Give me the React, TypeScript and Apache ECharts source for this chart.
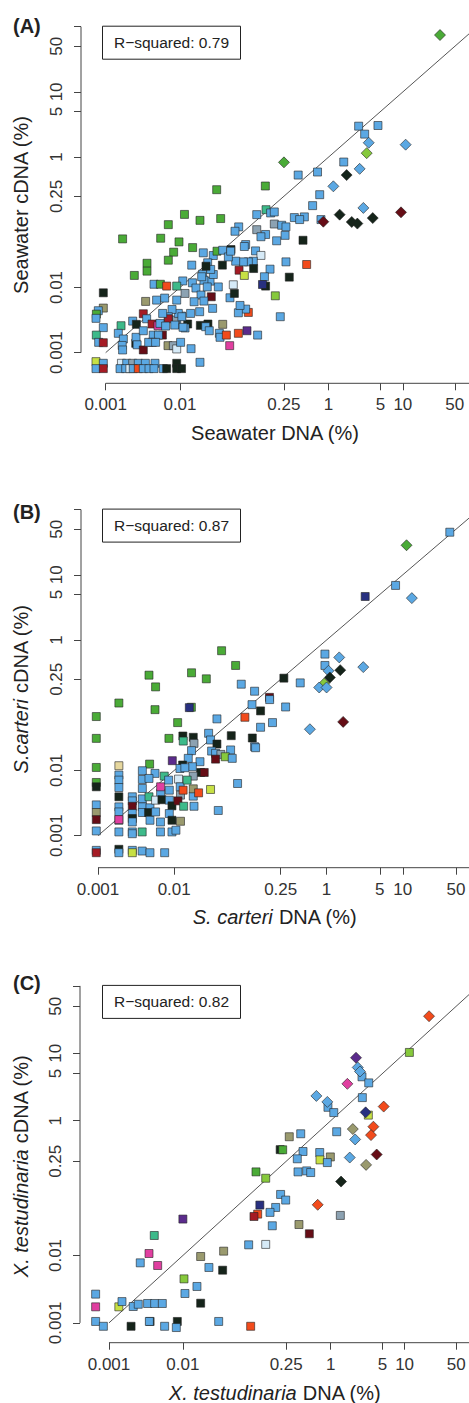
import React, { useEffect, useRef } from 'react';
import * as echarts from 'echarts';

type Pt = [number, number, string];

const palette: Record<string, string> = {
  B: '#5ba8e3', K: '#15241a', G: '#4aab37', T: '#3dba8a', L: '#86c93c', Y: '#c7e044',
  R: '#a51b24', O: '#f24b1c', D: '#660d16', M: '#e03fa0', P: '#5b2b8c', N: '#283080',
  H: '#9a9a6e', S: '#8ca2b2', W: '#d6eaf7', E: '#e6d79e',
};

const tickValues = [0.001, 0.01, 0.25, 1, 5, 10, 50, 100];
const tickLabels = ['0.001', '0.01', '0.25', '1', '5', '10', '50', ''];
const panelLetters = ['(A)', '(B)', '(C)'];
const rSquared = ['0.79', '0.87', '0.82'];
const speciesNames = ['Seawater', 'S. carteri', 'X. testudinaria'];

// Seawater DNA (%) vs Seawater cDNA (%)
const seawaterSquares: Pt[] = [
  [2.54, 2.98, 'B'], [4.62, 3.05, 'B'], [3.06, 2.25, 'B'], [1.6, 0.84, 'B'], [0.71, 0.59, 'B'], [0.39, 0.53, 'B'],
  [0.76, 0.265, 'B'], [0.0312, 0.316, 'G'], [0.141, 0.36, 'G'], [0.61, 0.18, 'B'], [0.472, 0.121, 'B'], [0.346, 0.118, 'B'],
  [0.408, 0.11, 'B'], [0.79, 0.11, 'B'], [0.144, 0.156, 'T'], [0.166, 0.139, 'B'], [0.186, 0.144, 'B'], [0.108, 0.131, 'B'],
  [0.186, 0.094, 'S'], [0.234, 0.09, 'B'], [0.267, 0.085, 'B'], [0.108, 0.077, 'S'], [0.142, 0.065, 'B'], [0.123, 0.06, 'B'],
  [0.26, 0.063, 'B'], [0.2, 0.052, 'B'], [0.453, 0.053, 'K'], [0.0617, 0.085, 'B'], [0.055, 0.0728, 'B'], [0.0766, 0.0455, 'B'],
  [0.0735, 0.0425, 'B'], [0.0486, 0.0382, 'K'], [0.104, 0.0364, 'B'], [0.123, 0.031, 'W'], [0.097, 0.0253, 'B'], [0.0832, 0.0247, 'B'],
  [0.0713, 0.0247, 'B'], [0.0562, 0.0253, 'B'], [0.0624, 0.0184, 'R'], [0.0735, 0.0153, 'Y'], [0.163, 0.0191, 'B'], [0.137, 0.0146, 'B'],
  [0.098, 0.0195, 'K'], [0.142, 0.0105, 'K'], [0.129, 0.0111, 'N'], [0.296, 0.0144, 'K'], [0.507, 0.0225, 'O'], [0.267, 0.0247, 'B'],
  [0.192, 0.00745, 'L'], [0.224, 0.00356, 'B'], [0.0832, 0.00414, 'O'], [0.0766, 0.00466, 'B'], [0.0611, 0.00409, 'B'], [0.0643, 0.0053, 'B'],
  [0.0471, 0.00695, 'B'], [0.054, 0.0081, 'K'], [0.0522, 0.011, 'W'], [0.0328, 0.0102, 'B'], [0.0254, 0.0125, 'B'], [0.0281, 0.0158, 'B'],
  [0.0202, 0.016, 'B'], [0.021, 0.0129, 'B'], [0.0147, 0.0118, 'B'], [0.0164, 0.0098, 'B'], [0.0192, 0.00764, 'B'], [0.0264, 0.0072, 'D'],
  [0.021, 0.00618, 'B'], [0.0155, 0.00604, 'B'], [0.0275, 0.00478, 'B'], [0.0184, 0.00425, 'B'], [0.0139, 0.004, 'B'], [0.0105, 0.00364, 'B'],
  [0.0127, 0.00275, 'K'], [0.0117, 0.00239, 'B'], [0.00904, 0.00272, 'B'], [0.00875, 0.00316, 'S'], [0.0095, 0.004, 'B'], [0.00782, 0.0046, 'B'],
  [0.00904, 0.0064, 'B'], [0.0117, 0.0081, 'S'], [0.0109, 0.0126, 'B'], [0.0144, 0.022, 'B'], [0.0196, 0.0146, 'B'], [0.0206, 0.034, 'B'],
  [0.0281, 0.0309, 'B'], [0.0315, 0.036, 'G'], [0.0376, 0.0372, 'B'], [0.0372, 0.022, 'K'], [0.0448, 0.0294, 'B'], [0.0481, 0.036, 'B'],
  [0.0236, 0.0239, 'B'], [0.0259, 0.0189, 'B'], [0.0233, 0.0102, 'B'], [0.0224, 0.0212, 'K'],
  [0.0186, 0.107, 'G'], [0.0353, 0.114, 'G'], [0.0115, 0.132, 'G'], [0.00697, 0.092, 'G'], [0.0055, 0.0569, 'G'], [0.0097, 0.05, 'G'],
  [0.0148, 0.0409, 'G'], [0.00822, 0.0348, 'G'], [0.00697, 0.0262, 'G'], [0.0036, 0.0235, 'G'], [0.0036, 0.0178, 'G'], [0.00243, 0.0153, 'G'],
  [0.00169, 0.0556, 'G'], [0.00447, 0.0112, 'B'], [0.00545, 0.0112, 'G'], [0.00904, 0.0105, 'T'], [0.00662, 0.0105, 'O'], [0.00485, 0.0064, 'B'],
  [0.00622, 0.00687, 'B'], [0.00345, 0.00611, 'H'],
  [0.00093, 0.00828, 'K'], [0.00093, 0.00483, 'H'], [0.000796, 0.0044, 'B'], [0.00075, 0.0039, 'G'], [0.000741, 0.00336, 'B'], [0.00093, 0.00242, 'B'],
  [0.000748, 0.00186, 'T'], [0.000805, 0.00144, 'B'], [0.00093, 0.00142, 'R'], [0.000741, 0.000728, 'Y'], [0.00093, 0.000687, 'B'], [0.000741, 0.000569, 'B'],
  [0.00093, 0.000569, 'R'],
  [0.00161, 0.00259, 'T'], [0.00148, 0.00198, 'B'], [0.00173, 0.00162, 'B'], [0.00167, 0.00129, 'B'], [0.00169, 0.0011, 'B'], [0.00254, 0.00139, 'K'],
  [0.00256, 0.00172, 'B'], [0.00265, 0.00132, 'B'], [0.00321, 0.0011, 'D'], [0.00231, 0.00305, 'B'], [0.00259, 0.00272, 'K'], [0.00321, 0.00395, 'R'],
  [0.00356, 0.00331, 'B'], [0.00321, 0.00217, 'B'], [0.00421, 0.00275, 'R'], [0.00506, 0.00259, 'M'], [0.0058, 0.00186, 'D'], [0.00437, 0.00186, 'B'],
  [0.00513, 0.00186, 'B'], [0.00425, 0.00144, 'R'], [0.00379, 0.00144, 'B'], [0.0047, 0.00144, 'B'], [0.0069, 0.00128, 'H'], [0.00815, 0.00128, 'S'],
  [0.00904, 0.00114, 'W'], [0.0102, 0.00144, 'B'], [0.0141, 0.00115, 'B'], [0.00697, 0.00356, 'B'], [0.00697, 0.00331, 'R'], [0.00585, 0.004, 'B'],
  [0.00538, 0.00281, 'B'], [0.00641, 0.00256, 'B'], [0.0085, 0.00265, 'B'], [0.0106, 0.00356, 'B'], [0.011, 0.00245, 'B'], [0.0188, 0.00262, 'K'],
  [0.0238, 0.00275, 'K'], [0.0222, 0.0025, 'B'], [0.0248, 0.00217, 'B'], [0.0376, 0.00272, 'H'], [0.0339, 0.00198, 'B'], [0.0346, 0.00172, 'B'],
  [0.0421, 0.00186, 'O'], [0.0611, 0.00198, 'O'], [0.0798, 0.00217, 'P'], [0.111, 0.00186, 'B'], [0.0467, 0.00128, 'M'], [0.0186, 0.000711, 'B'],
  [0.00163, 0.000687, 'W'], [0.00192, 0.000687, 'B'], [0.00231, 0.000687, 'S'], [0.00275, 0.000687, 'B'], [0.00342, 0.000687, 'B'], [0.00461, 0.000687, 'B'],
  [0.00904, 0.000687, 'K'], [0.00156, 0.000569, 'B'], [0.00186, 0.000569, 'B'], [0.00212, 0.000569, 'W'], [0.00235, 0.000569, 'B'], [0.00275, 0.000569, 'O'],
  [0.00321, 0.000569, 'B'], [0.00383, 0.000569, 'B'], [0.00447, 0.000569, 'B'], [0.00597, 0.000569, 'B'], [0.00662, 0.000569, 'K'], [0.00904, 0.000569, 'K'],
  [0.0105, 0.000569, 'K'],
];
const seawaterDiamonds: Pt[] = [
  [31.6, 74.5, 'G'], [3.47, 1.66, 'B'], [10.9, 1.55, 'B'], [3.26, 1.15, 'L'], [0.251, 0.83, 'G'], [1.75, 0.53, 'K'],
  [2.62, 0.66, 'B'], [1.16, 0.356, 'B'], [2.94, 0.166, 'B'], [9.44, 0.142, 'D'], [1.41, 0.131, 'K'], [0.85, 0.102, 'D'],
  [2.05, 0.101, 'K'], [2.44, 0.0955, 'K'], [3.93, 0.116, 'K'],
];

// S. carteri DNA (%) vs cDNA (%)
const carteriSquares: Pt[] = [
  [41.4, 45, 'B'], [8.04, 6.87, 'B'], [3.21, 4.65, 'N'], [0.951, 0.608, 'B'], [0.951, 0.407, 'B'], [0.275, 0.26, 'K'],
  [0.451, 0.22, 'B'], [0.0419, 0.685, 'G'], [0.064, 0.407, 'G'], [0.0169, 0.314, 'G'], [0.0264, 0.254, 'G'], [0.00467, 0.289, 'G'],
  [0.0057, 0.191, 'G'], [0.0759, 0.21, 'B'], [0.1135, 0.164, 'B'], [0.178, 0.132, 'D'], [0.179, 0.122, 'B'], [0.105, 0.102, 'B'],
  [0.29, 0.094, 'B'], [0.00188, 0.108, 'G'], [0.0056, 0.0855, 'G'], [0.0168, 0.093, 'G'], [0.0158, 0.0918, 'N'],
  [0.136, 0.0818, 'K'], [0.0847, 0.0653, 'O'], [0.0364, 0.0617, 'B'], [0.00095, 0.067, 'G'], [0.0111, 0.0541, 'G'], [0.195, 0.0541, 'B'],
  [0.136, 0.0459, 'B'], [0.106, 0.0314, 'K'], [0.1135, 0.0231, 'B'], [0.117, 0.0223, 'B'], [0.0561, 0.0341, 'K'], [0.00095, 0.031, 'G'],
  [0.00853, 0.031, 'G'], [0.013, 0.0337, 'K'], [0.01315, 0.0282, 'T'], [0.0178, 0.0322, 'K'], [0.0182, 0.026, 'S'], [0.0283, 0.0371, 'B'],
  [0.03, 0.0293, 'B'], [0.0364, 0.0254, 'K'], [0.031, 0.0198, 'B'], [0.0349, 0.0183, 'B'], [0.041, 0.0176, 'S'], [0.055, 0.0206, 'B'],
  [0.0468, 0.0162, 'L'], [0.0578, 0.0153, 'B'], [0.0349, 0.0149, 'D'], [0.0679, 0.0063, 'B'], [0.0169, 0.0201, 'B'], [0.0153, 0.0153, 'B'],
  [0.0218, 0.0136, 'B'], [0.0222, 0.0093, 'K'], [0.0248, 0.0093, 'D'], [0.0173, 0.0114, 'B'], [0.0178, 0.00818, 'S'], [0.00944, 0.0141, 'P'],
  [0.0129, 0.0121, 'K'], [0.0119, 0.0107, 'B'], [0.0138, 0.011, 'B'], [0.00476, 0.0125, 'G'], [0.00095, 0.0111, 'G'], [0.00188, 0.0118, 'E'],
  [0.00095, 0.00653, 'G'], [0.00095, 0.00561, 'K'],
  [0.00188, 0.00848, 'B'], [0.00188, 0.0071, 'B'], [0.00188, 0.00547, 'B'], [0.00188, 0.00394, 'K'], [0.00188, 0.00276, 'B'], [0.00188, 0.00231, 'B'],
  [0.00188, 0.00172, 'S'], [0.00188, 0.00114, 'B'], [0.00188, 0.00176, 'M'],
  [0.00282, 0.00394, 'B'], [0.00282, 0.00341, 'B'], [0.00282, 0.00282, 'D'], [0.00282, 0.00218, 'B'], [0.00282, 0.00183, 'K'], [0.00282, 0.00162, 'B'],
  [0.00282, 0.00114, 'B'], [0.00282, 0.00107, 'B'],
  [0.00095, 0.00296, 'B'], [0.00095, 0.00226, 'H'], [0.00095, 0.00176, 'D'], [0.00095, 0.00118, 'B'],
  [0.00382, 0.00989, 'B'], [0.00382, 0.00727, 'B'], [0.00382, 0.00529, 'B'], [0.00382, 0.00366, 'B'], [0.00382, 0.00276, 'B'], [0.00382, 0.00226, 'B'],
  [0.0038, 0.00114, 'T'], [0.00481, 0.00267, 'B'], [0.00461, 0.00226, 'K'], [0.00481, 0.00172, 'B'], [0.00467, 0.00394, 'T'], [0.0056, 0.009, 'B'],
  [0.00467, 0.00753, 'B'], [0.00741, 0.00818, 'T'], [0.00664, 0.00443, 'B'], [0.00664, 0.00561, 'M'], [0.0057, 0.0035, 'W'], [0.0069, 0.00355, 'K'],
  [0.0057, 0.00231, 'B'], [0.0066, 0.00162, 'B'], [0.0066, 0.00114, 'B'],
  [0.00845, 0.0071, 'B'], [0.00863, 0.00498, 'B'], [0.00863, 0.0035, 'B'], [0.00935, 0.00286, 'K'], [0.00863, 0.00218, 'B'], [0.00935, 0.00172, 'K'],
  [0.00935, 0.00114, 'B'], [0.01054, 0.00121, 'B'], [0.0114, 0.00736, 'W'], [0.012, 0.00561, 'B'], [0.0121, 0.00418, 'S'], [0.0112, 0.00341, 'D'],
  [0.0131, 0.00498, 'O'], [0.0121, 0.00166, 'H'], [0.0133, 0.00282, 'T'], [0.0148, 0.0071, 'T'], [0.0178, 0.00403, 'B'], [0.0182, 0.00282, 'B'],
  [0.0178, 0.00522, 'H'], [0.0209, 0.00453, 'O'], [0.03, 0.0051, 'Y'], [0.0379, 0.00243, 'B'],
  [0.00095, 0.000594, 'B'], [0.00095, 0.000547, 'R'], [0.00188, 0.000617, 'K'], [0.00188, 0.000547, 'B'], [0.00282, 0.000594, 'B'], [0.00282, 0.000547, 'Y'],
  [0.0038, 0.00058, 'B'], [0.00481, 0.000547, 'B'], [0.0075, 0.000547, 'B'],
];
const carteriDiamonds: Pt[] = [
  [11.2, 28.4, 'G'], [13.15, 4.39, 'B'], [1.466, 0.541, 'B'], [1.06, 0.337, 'B'], [1.51, 0.345, 'K'], [1.104, 0.266, 'K'],
  [3.03, 0.384, 'B'], [0.93, 0.215, 'L'], [0.8, 0.187, 'B'], [1.0, 0.187, 'B'], [1.65, 0.0555, 'D'], [0.604, 0.0428, 'B'],
];

// X. testudinaria DNA (%) vs cDNA (%)
const testudinariaSquares: Pt[] = [
  [11.6, 10.3, 'L'], [2.65, 4.48, 'B'], [3.27, 3.64, 'B'], [2.68, 2.2, 'B'], [0.918, 1.58, 'B'], [1.1, 1.32, 'B'],
  [3.23, 1.21, 'Y'], [1.205, 0.686, 'B'], [0.393, 0.64, 'B'], [0.275, 0.578, 'H'], [0.207, 0.372, 'K'], [0.224, 0.37, 'G'],
  [0.422, 0.349, 'B'], [0.71, 0.337, 'B'], [0.989, 0.29, 'H'], [0.716, 0.262, 'Y'], [0.9, 0.239, 'B'], [0.353, 0.272, 'B'],
  [0.361, 0.174, 'B'], [0.473, 0.18, 'B'], [0.536, 0.17, 'B'], [0.0975, 0.174, 'G'], [0.132, 0.14, 'L'],
  [0.21, 0.0805, 'B'], [0.246, 0.0664, 'B'], [0.18, 0.0516, 'B'], [0.151, 0.0436, 'B'], [0.11, 0.056, 'N'], [0.1028, 0.0411, 'O'],
  [0.0916, 0.0379, 'R'], [1.35, 0.0393, 'S'], [0.162, 0.0276, 'B'], [0.372, 0.0288, 'H'], [0.514, 0.021, 'D'], [0.0776, 0.0144, 'B'],
  [0.132, 0.0146, 'W'], [0.01, 0.0347, 'P'], [0.0041, 0.0198, 'T'], [0.00348, 0.0107, 'M'], [0.00456, 0.0071, 'M'], [0.00265, 0.00778, 'B'],
  [0.0174, 0.00966, 'H'], [0.0356, 0.0116, 'H'], [0.0225, 0.00664, 'B'], [0.0345, 0.00605, 'K'], [0.01035, 0.0045, 'L'], [0.0155, 0.00347, 'B'],
  [0.01067, 0.00273, 'B'], [0.0174, 0.00196, 'K'],
  [0.00066, 0.00267, 'B'], [0.00066, 0.00173, 'M'], [0.00066, 0.00105, 'B'], [0.00084, 0.00089, 'B'], [0.00136, 0.00173, 'Y'], [0.0015, 0.00207, 'B'],
  [0.00213, 0.00175, 'B'], [0.00249, 0.00189, 'B'], [0.00333, 0.00194, 'B'], [0.00415, 0.00194, 'B'], [0.00527, 0.00194, 'B'], [0.00199, 0.00089, 'K'],
  [0.0036, 0.00105, 'K'], [0.00352, 0.00105, 'B'], [0.00566, 0.00089, 'B'], [0.00841, 0.00105, 'K'], [0.00815, 0.000853, 'B'], [0.0305, 0.00105, 'B'],
  [0.0826, 0.00089, 'O'],
];
const testudinariaDiamonds: Pt[] = [
  [21.4, 35.5, 'O'], [2.2, 8.59, 'P'], [2.32, 6.17, 'B'], [2.49, 5.37, 'B'], [1.68, 3.52, 'M'], [0.64, 2.33, 'B'],
  [0.9, 1.9, 'B'], [2.97, 1.33, 'N'], [5.21, 1.62, 'O'], [3.78, 0.815, 'O'], [3.51, 0.611, 'O'], [1.99, 0.752, 'H'],
  [2.14, 0.527, 'B'], [1.81, 0.284, 'B'], [4.19, 0.315, 'D'], [3.01, 0.221, 'H'], [1.38, 0.125, 'K'], [0.667, 0.0565, 'O'],
];

const FONT = '"Liberation Sans", Arial, Helvetica, sans-serif';

const layouts = [
  { left: 81, top: 26.7, width: 388, height: 356.6, xMin: -3.332, xMax: 1.89, yMin: -3.47, letterY: 26, xTitleY: 433, yTitleY: 205 },
  { left: 81, top: 509.6, width: 388, height: 358.1, xMin: -3.223, xMax: 1.869, yMin: -3.492, letterY: 512, xTitleY: 916.7, yTitleY: 689 },
  { left: 80, top: 985.9, width: 389, height: 356.8, xMin: -3.392, xMax: 1.871, yMin: -3.294, letterY: 983, xTitleY: 1393, yTitleY: 1166 },
];

const seriesData = [
  [seawaterSquares, seawaterDiamonds],
  [carteriSquares, carteriDiamonds],
  [testudinariaSquares, testudinariaDiamonds],
];

function toItems(pts: Pt[]) {
  return pts.map(([x, y, c]) => ({
    value: [Math.log10(x), Math.log10(y)],
    itemStyle: { color: palette[c] },
  }));
}

function richTitle(i: number, suffix: string, yTitle: boolean) {
  if (i === 0) return `${speciesNames[0]} ${suffix}`;
  const name = yTitle && i === 1 ? 'S.carteri' : speciesNames[i];
  return `{i|${name}} ${suffix}`;
}

export default function App() {
  const ref = useRef<HTMLDivElement>(null);
  useEffect(() => {
    if (!ref.current) return;
    const chart = echarts.init(ref.current, undefined, { renderer: 'svg' });
    const tickLogs = tickValues.map((v) => Math.log10(v));
    const fmt = (v: number) => {
      const k = tickLogs.findIndex((t) => Math.abs(t - v) < 1e-6);
      return k >= 0 ? tickLabels[k] : '';
    };
    const grids: any[] = [];
    const xAxes: any[] = [];
    const yAxes: any[] = [];
    const series: any[] = [];
    const graphics: any[] = [];
    const axisCommon = {
      type: 'value',
      axisLine: { show: false, onZero: false },
      splitLine: { show: false },
      axisTick: { show: true, length: 7, lineStyle: { color: '#444', width: 1 }, customValues: tickLogs },
      axisLabel: { customValues: tickLogs, formatter: fmt, color: '#333', fontSize: 17, fontFamily: FONT },
    };
    const rich = { i: { fontStyle: 'italic', fontSize: 20, fontFamily: FONT, fill: '#222', color: '#222' } };

    layouts.forEach((L, i) => {
      grids.push({ left: L.left, top: L.top, width: L.width, height: L.height, containLabel: false, outerBoundsMode: 'none' });
      xAxes.push({
        ...axisCommon, gridIndex: i, min: L.xMin, max: L.xMax, position: 'bottom',
        axisLabel: { ...axisCommon.axisLabel, margin: 13 },
      });
      yAxes.push({
        ...axisCommon, gridIndex: i, min: L.yMin, max: 2, position: 'left',
        axisLabel: { ...axisCommon.axisLabel, rotate: 90, margin: 16 },
      });
      const lineStyle = { color: '#444', width: 1 };
      series.push({
        type: 'line', xAxisIndex: i, yAxisIndex: i, silent: true, symbol: 'none', clip: false,
        lineStyle, data: [[-3, L.yMin], [L.xMax, L.yMin]], z: 1,
      });
      series.push({
        type: 'line', xAxisIndex: i, yAxisIndex: i, silent: true, symbol: 'none', clip: false,
        lineStyle, data: [[L.xMin, -3], [L.xMin, 2]], z: 1,
      });
      series.push({
        type: 'line', xAxisIndex: i, yAxisIndex: i, silent: true, symbol: 'none', clip: true,
        lineStyle: { color: '#555', width: 1 }, data: [[-3, -3], [2, 2]], z: 2,
      });
      const [sq, dm] = seriesData[i];
      series.push({
        type: 'scatter', xAxisIndex: i, yAxisIndex: i, symbol: 'rect', symbolSize: 8, clip: true,
        itemStyle: { borderColor: 'rgba(35,35,35,0.6)', borderWidth: 1, opacity: 1 },
        data: toItems(sq), z: 3,
      });
      series.push({
        type: 'scatter', xAxisIndex: i, yAxisIndex: i, symbol: 'diamond', symbolSize: 11, clip: true,
        itemStyle: { borderColor: 'rgba(35,35,35,0.6)', borderWidth: 1, opacity: 1 },
        data: toItems(dm), z: 4,
      });

      graphics.push({
        type: 'text', x: 13, y: L.letterY,
        style: { text: panelLetters[i], fontSize: 20, fontWeight: 'bold', fontFamily: FONT, fill: '#222', align: 'left', verticalAlign: 'middle', textAlign: 'left', textVerticalAlign: 'middle' },
      });
      graphics.push({
        type: 'rect', shape: { x: 102.5, y: L.top - 0.5, width: 138, height: 33 },
        style: { fill: '#fff', stroke: '#222', lineWidth: 1 },
      });
      graphics.push({
        type: 'text', x: 171.5, y: L.top + 16,
        style: { text: `R\u2212squared: ${rSquared[i]}`, fontSize: 15.5, fontFamily: FONT, fill: '#222', align: 'center', verticalAlign: 'middle', textAlign: 'center', textVerticalAlign: 'middle' },
      });
      graphics.push({
        type: 'text', x: 275, y: L.xTitleY,
        style: { text: richTitle(i, 'DNA (%)', false), rich, fontSize: 20, fontFamily: FONT, fill: '#222', align: 'center', verticalAlign: 'middle', textAlign: 'center', textVerticalAlign: 'middle' },
      });
      graphics.push({
        type: 'text', x: 21, y: L.yTitleY, rotation: Math.PI / 2,
        style: { text: richTitle(i, 'cDNA (%)', true), rich, fontSize: 20, fontFamily: FONT, fill: '#222', align: 'center', verticalAlign: 'middle', textAlign: 'center', textVerticalAlign: 'middle' },
      });
    });

    chart.setOption({
      animation: false,
      backgroundColor: '#fff',
      textStyle: { fontFamily: FONT },
      grid: grids,
      xAxis: xAxes,
      yAxis: yAxes,
      series,
      graphic: { elements: graphics },
    });
    return () => chart.dispose();
  }, []);
  return <div ref={ref} style={{ position: 'absolute', left: 0, top: 0, width: 469, height: 1403 }} />;
}
